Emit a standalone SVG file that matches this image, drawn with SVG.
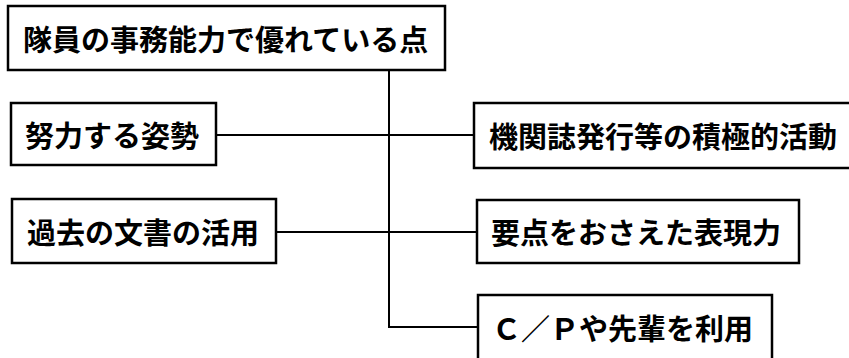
<svg xmlns="http://www.w3.org/2000/svg" width="849" height="358" viewBox="0 0 849 358">
<style>
.box{fill:#fff;stroke:#000;stroke-width:2.5}
.lbl{font-family:"Noto Sans CJK JP","Noto Sans CJK SC",sans-serif;font-size:29px;font-weight:bold;fill:#000;dominant-baseline:central}
.ln{stroke:#000;stroke-width:2;fill:none}
</style>
<rect width="849" height="358" fill="#fff"/>
<g id="connectors">
<path class="ln" d="M389 70 V327 H478"/>
<path class="ln" d="M216 135 H474"/>
<path class="ln" d="M276 232 H477"/>
</g>
<g id="root"><rect class="box" x="8" y="6" width="437" height="64"/><text class="lbl" x="23" y="38">隊員の事務能力で優れている点</text></g>
<g id="n1"><rect class="box" x="11" y="103" width="205" height="62"/><text class="lbl" x="25" y="134">努力する姿勢</text></g>
<g id="n2"><rect class="box" x="12" y="199" width="264" height="64"/><text class="lbl" x="27" y="231">過去の文書の活用</text></g>
<g id="n3"><rect class="box" x="474" y="103" width="380" height="65"/><text class="lbl" x="489" y="135">機関誌発行等の積極的活動</text></g>
<g id="n4"><rect class="box" x="477" y="200" width="322" height="63"/><text class="lbl" x="491" y="231">要点をおさえた表現力</text></g>
<g id="n5"><rect class="box" x="478" y="295" width="294" height="70"/><text class="lbl" x="492" y="327">Ｃ／Ｐや先輩を利用</text></g>
</svg>
